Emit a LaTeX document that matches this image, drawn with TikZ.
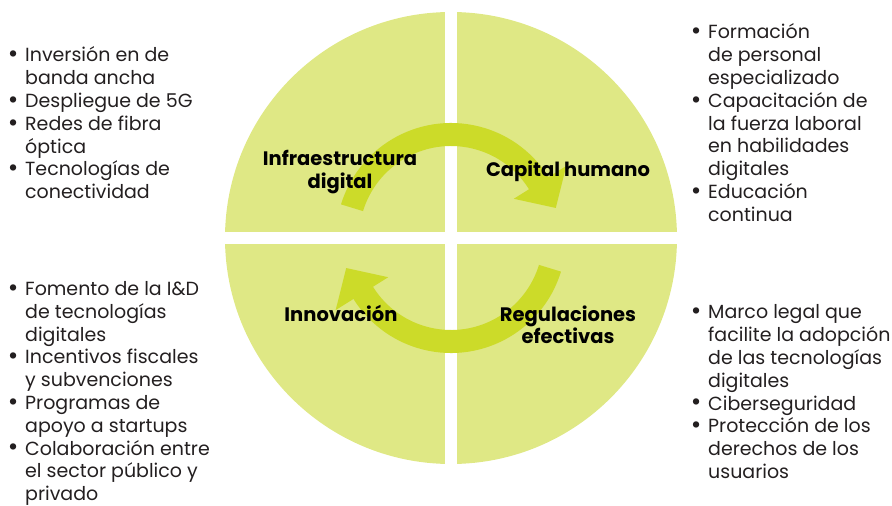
\documentclass[tikz,border=0pt]{standalone}
\usepackage{fontspec}
\setmainfont{Poppins}
\usepackage{tikz}
\definecolor{quadgreen}{RGB}{223,232,133}
\definecolor{arrowgreen}{RGB}{204,219,41}
\definecolor{inkgray}{RGB}{35,31,32}
\newcommand{\quadcolor}{quadgreen}
\newcommand{\arrowcolor}{arrowgreen}
\newcommand{\discradius}{226}
\newcommand{\halfgap}{6}
\newcommand{\itm}{\llap{\makebox[0pt]{\raisebox{-0.8pt}{\scalebox{1.35}{\textbullet}}}\hspace{12pt}}}
\tikzset{
  listtext/.style={anchor=base west, inner sep=0pt, text=inkgray, font=\fontsize{19}{22.8}\selectfont},
  quadlabel/.style={anchor=base, inner sep=0pt, text=black, font=\fontsize{19.5}{22.8}\selectfont\bfseries}
}

\begin{document}
\begin{tikzpicture}[x=1pt,y=1pt]
\useasboundingbox (-451,-268) rectangle (441,238);
%disc
\fill[\quadcolor] (0,0) circle (\discradius);
\fill[white] (-\halfgap,-\discradius-1) rectangle (\halfgap,\discradius+1);
\fill[white] (-\discradius-1,-\halfgap) rectangle (\discradius+1,\halfgap);
%arrows
\fill[\arrowcolor] (163:115) arc[start angle=163, end angle=32, radius=115] -- (32:136) -- (16:109) -- (32:74) -- (32:92) arc[start angle=32, end angle=163, radius=92] -- cycle;
\fill[\arrowcolor, rotate=180] (163:115) arc[start angle=163, end angle=32, radius=115] -- (32:136) -- (16:109) -- (32:74) -- (32:92) arc[start angle=32, end angle=163, radius=92] -- cycle;
%labels
\node[quadlabel] (infra) at (-111,72) {\begin{tabular}[t]{@{}c@{}}Infraestructura\\digital\end{tabular}};
\node[quadlabel] (capital) at (117,61) {\begin{tabular}[t]{@{}c@{}}Capital humano\end{tabular}};
\node[quadlabel] (innov) at (-110,-83) {\begin{tabular}[t]{@{}c@{}}Innovación\end{tabular}};
\node[quadlabel] (regul) at (117,-83) {\begin{tabular}[t]{@{}c@{}}Regulaciones\\efectivas\end{tabular}};
%lists
\node[listtext] (infra list) at (-426,176) {\begin{tabular}[t]{@{}l@{}}
\itm Inversión en de\\
banda ancha\\
\itm Despliegue de 5G\\
\itm Redes de fibra\\
óptica\\
\itm Tecnologías de\\
conectividad
\end{tabular}};
\node[listtext] (capital list) at (257,199) {\begin{tabular}[t]{@{}l@{}}
\itm Formación\\
de personal\\
especializado\\
\itm Capacitación de\\
la fuerza laboral\\
en habilidades\\
digitales\\
\itm Educación\\
continua
\end{tabular}};
\node[listtext] (innov list) at (-426,-57.5) {\begin{tabular}[t]{@{}l@{}}
\itm Fomento de la I\&D\\
de tecnologías\\
digitales\\
\itm Incentivos fiscales\\
y subvenciones\\
\itm Programas de\\
apoyo a startups\\
\itm Colaboración entre\\
el sector público y\\
privado
\end{tabular}};
\node[listtext] (regul list) at (257,-81) {\begin{tabular}[t]{@{}l@{}}
\itm Marco legal que\\
facilite la adopción\\
de las tecnologías\\
digitales\\
\itm Ciberseguridad\\
\itm Protección de los\\
derechos de los\\
usuarios
\end{tabular}};
\end{tikzpicture}
\end{document}
